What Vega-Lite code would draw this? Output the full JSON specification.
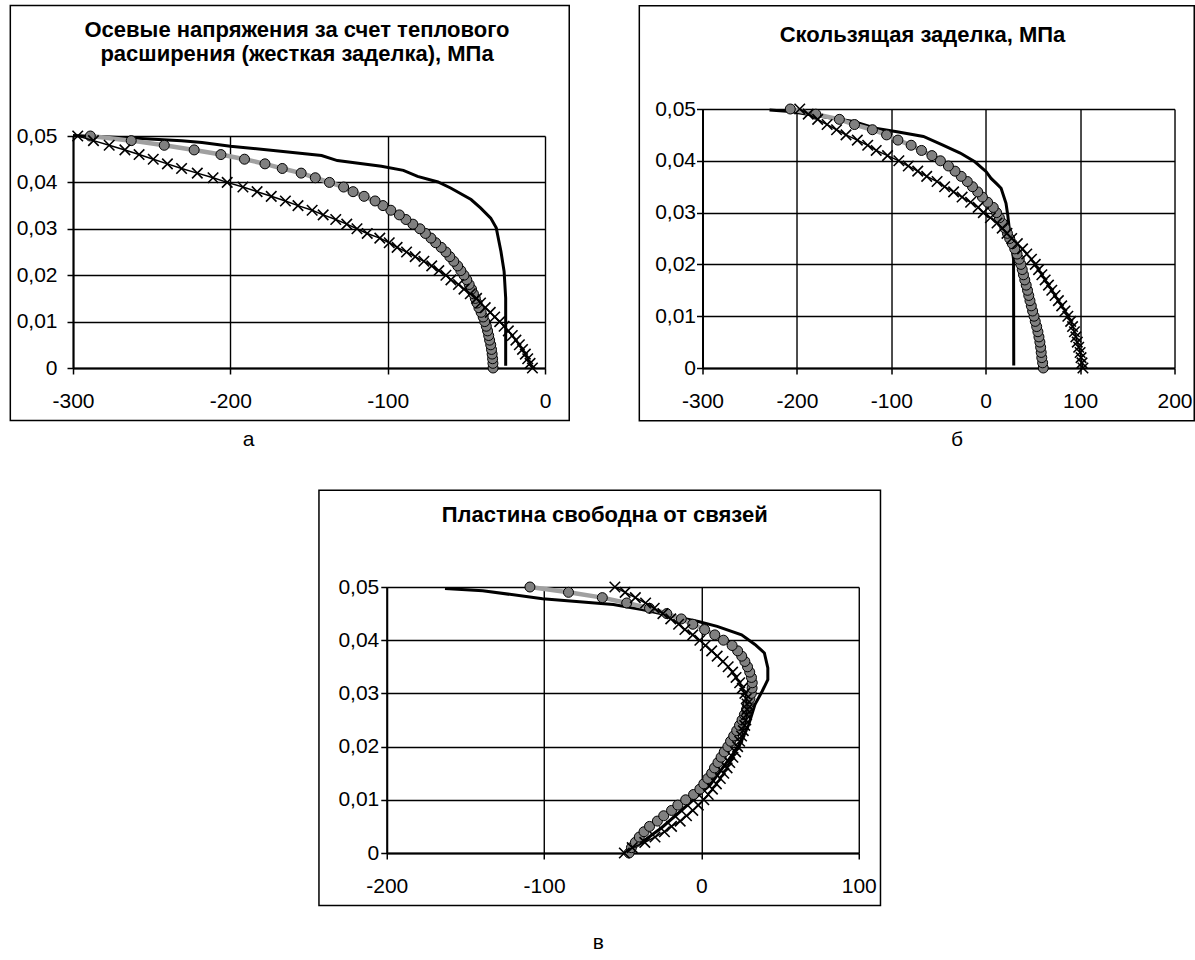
{
  "$schema": "https://vega.github.io/schema/vega-lite/v6.json",
  "padding": {"left": 9, "top": 4, "right": 0, "bottom": 0},
  "config": {
    "font": "Liberation Sans",
    "view": {"stroke": null},
    "locale": {"number": {"decimal": ",", "thousands": " ", "grouping": [3], "currency": ["", ""], "minus": "-"}},
    "axis": {"grid": true, "domainColor": "#000", "domainWidth": 2, "tickColor": "#000", "tickWidth": 1.5, "tickSize": 6, "gridColor": "#000", "gridWidth": 1.4, "gridOpacity": 1, "labelFont": "Liberation Sans", "labelFontSize": 21, "labelColor": "#000", "titleFont": "Liberation Sans", "titleFontSize": 21, "titleFontWeight": "normal", "titleColor": "#000", "labelFlush": false, "labelOverlap": false},
    "title": {"font": "Liberation Sans", "fontSize": 22, "fontWeight": "bold", "color": "#000"}
  },
  "datasets": {
    "a_solid": [
      {"x": -300, "y": 0.0501}, {"x": -260, "y": 0.0495}, {"x": -231, "y": 0.049}, {"x": -218, "y": 0.0486}, {"x": -200, "y": 0.0478},
      {"x": -168, "y": 0.0467}, {"x": -142, "y": 0.0458}, {"x": -132, "y": 0.0447}, {"x": -104, "y": 0.0435}, {"x": -90, "y": 0.0426},
      {"x": -81, "y": 0.0413}, {"x": -68, "y": 0.0401}, {"x": -60, "y": 0.0388}, {"x": -47, "y": 0.0363}, {"x": -41, "y": 0.0345},
      {"x": -34.5, "y": 0.0323}, {"x": -31, "y": 0.0302}, {"x": -30, "y": 0.0285}, {"x": -28, "y": 0.0251}, {"x": -26, "y": 0.0208},
      {"x": -25, "y": 0.0151}, {"x": -25, "y": 0.0101}, {"x": -25, "y": 0.0005}
    ],
    "a_circ": [
      {"y": 0.000, "x": -33}, {"y": 0.001, "x": -33.1}, {"y": 0.002, "x": -33.3}, {"y": 0.003, "x": -33.6}, {"y": 0.004, "x": -34},
      {"y": 0.005, "x": -34.5}, {"y": 0.006, "x": -35.2}, {"y": 0.007, "x": -35.8}, {"y": 0.008, "x": -36.5}, {"y": 0.009, "x": -37.3},
      {"y": 0.010, "x": -38.3}, {"y": 0.011, "x": -39.3}, {"y": 0.012, "x": -40.6}, {"y": 0.013, "x": -42}, {"y": 0.014, "x": -43.2},
      {"y": 0.015, "x": -44.3}, {"y": 0.016, "x": -45.5}, {"y": 0.017, "x": -46.7}, {"y": 0.018, "x": -48.2}, {"y": 0.019, "x": -49.7},
      {"y": 0.020, "x": -51.5}, {"y": 0.021, "x": -53.5}, {"y": 0.022, "x": -55.5}, {"y": 0.023, "x": -58}, {"y": 0.024, "x": -60.5},
      {"y": 0.025, "x": -63}, {"y": 0.026, "x": -66}, {"y": 0.027, "x": -69.5}, {"y": 0.028, "x": -72.5}, {"y": 0.029, "x": -76},
      {"y": 0.030, "x": -79.5}, {"y": 0.031, "x": -84}, {"y": 0.032, "x": -88.4}, {"y": 0.033, "x": -92.6}, {"y": 0.034, "x": -98},
      {"y": 0.035, "x": -103}, {"y": 0.036, "x": -108}, {"y": 0.037, "x": -115}, {"y": 0.038, "x": -122}, {"y": 0.039, "x": -128},
      {"y": 0.040, "x": -137}, {"y": 0.041, "x": -146}, {"y": 0.042, "x": -155}, {"y": 0.043, "x": -167}, {"y": 0.044, "x": -178},
      {"y": 0.045, "x": -191}, {"y": 0.046, "x": -206}, {"y": 0.047, "x": -223}, {"y": 0.048, "x": -242}, {"y": 0.049, "x": -263},
      {"y": 0.050, "x": -289}
    ],
    "a_cross": [
      {"y": 0.000, "x": -8}, {"y": 0.001, "x": -9.5}, {"y": 0.002, "x": -11}, {"y": 0.003, "x": -12.5}, {"y": 0.004, "x": -14.3},
      {"y": 0.005, "x": -16.3}, {"y": 0.006, "x": -18.5}, {"y": 0.007, "x": -20.8}, {"y": 0.008, "x": -23.3}, {"y": 0.009, "x": -26},
      {"y": 0.010, "x": -28.8}, {"y": 0.011, "x": -32}, {"y": 0.012, "x": -34.8}, {"y": 0.013, "x": -38}, {"y": 0.014, "x": -41},
      {"y": 0.015, "x": -43.5}, {"y": 0.016, "x": -47.5}, {"y": 0.017, "x": -51.5}, {"y": 0.018, "x": -55}, {"y": 0.019, "x": -59.8},
      {"y": 0.020, "x": -63}, {"y": 0.021, "x": -67.5}, {"y": 0.022, "x": -72}, {"y": 0.023, "x": -77}, {"y": 0.024, "x": -82.5},
      {"y": 0.025, "x": -88}, {"y": 0.026, "x": -94}, {"y": 0.027, "x": -99}, {"y": 0.028, "x": -105}, {"y": 0.029, "x": -113},
      {"y": 0.030, "x": -119.5}, {"y": 0.031, "x": -126}, {"y": 0.032, "x": -133}, {"y": 0.033, "x": -141}, {"y": 0.034, "x": -148},
      {"y": 0.035, "x": -157}, {"y": 0.036, "x": -165}, {"y": 0.037, "x": -174}, {"y": 0.038, "x": -183}, {"y": 0.039, "x": -192},
      {"y": 0.040, "x": -202}, {"y": 0.041, "x": -211}, {"y": 0.042, "x": -221}, {"y": 0.043, "x": -231}, {"y": 0.044, "x": -240},
      {"y": 0.045, "x": -249}, {"y": 0.046, "x": -258}, {"y": 0.047, "x": -267}, {"y": 0.048, "x": -277}, {"y": 0.049, "x": -287},
      {"y": 0.050, "x": -297}
    ],
    "b_solid": [
      {"x": -229, "y": 0.0498}, {"x": -207, "y": 0.0495}, {"x": -172, "y": 0.0485}, {"x": -140, "y": 0.0476}, {"x": -117, "y": 0.0463},
      {"x": -94, "y": 0.0456}, {"x": -66, "y": 0.0447}, {"x": -46.5, "y": 0.0431}, {"x": -27, "y": 0.0415}, {"x": -11.5, "y": 0.0398},
      {"x": 0.5, "y": 0.0379}, {"x": 5.7, "y": 0.0366}, {"x": 12, "y": 0.0355}, {"x": 16.3, "y": 0.0347}, {"x": 21.5, "y": 0.0318},
      {"x": 23.3, "y": 0.0296}, {"x": 25.5, "y": 0.026}, {"x": 28, "y": 0.023}, {"x": 29.5, "y": 0.021}, {"x": 29.7, "y": 0.0005}
    ],
    "b_circ": [
      {"y": 0.000, "x": 61}, {"y": 0.001, "x": 60.3}, {"y": 0.002, "x": 59.4}, {"y": 0.003, "x": 58.8}, {"y": 0.004, "x": 58.2},
      {"y": 0.005, "x": 57.4}, {"y": 0.006, "x": 56.4}, {"y": 0.007, "x": 55.3}, {"y": 0.008, "x": 54}, {"y": 0.009, "x": 52.5},
      {"y": 0.010, "x": 51.2}, {"y": 0.011, "x": 49.7}, {"y": 0.012, "x": 48.3}, {"y": 0.013, "x": 46.9}, {"y": 0.014, "x": 45.6},
      {"y": 0.015, "x": 44.3}, {"y": 0.016, "x": 42.9}, {"y": 0.017, "x": 41.4}, {"y": 0.018, "x": 40}, {"y": 0.019, "x": 38.7},
      {"y": 0.020, "x": 37.3}, {"y": 0.021, "x": 35.5}, {"y": 0.022, "x": 33.2}, {"y": 0.023, "x": 30.8}, {"y": 0.024, "x": 28.2},
      {"y": 0.025, "x": 25.4}, {"y": 0.026, "x": 23}, {"y": 0.027, "x": 20.3}, {"y": 0.028, "x": 17.5}, {"y": 0.029, "x": 14.5},
      {"y": 0.030, "x": 11.5}, {"y": 0.031, "x": 8}, {"y": 0.032, "x": 2}, {"y": 0.033, "x": -3.5}, {"y": 0.034, "x": -8.5},
      {"y": 0.035, "x": -14}, {"y": 0.036, "x": -19.5}, {"y": 0.037, "x": -26}, {"y": 0.038, "x": -32.5}, {"y": 0.039, "x": -39.5},
      {"y": 0.040, "x": -48}, {"y": 0.041, "x": -57}, {"y": 0.042, "x": -68}, {"y": 0.043, "x": -79}, {"y": 0.044, "x": -93},
      {"y": 0.045, "x": -105}, {"y": 0.046, "x": -120}, {"y": 0.047, "x": -139}, {"y": 0.048, "x": -155}, {"y": 0.049, "x": -180},
      {"y": 0.050, "x": -207}
    ],
    "b_cross": [
      {"y": 0.000, "x": 103}, {"y": 0.001, "x": 102}, {"y": 0.002, "x": 101}, {"y": 0.003, "x": 100}, {"y": 0.004, "x": 98.5},
      {"y": 0.005, "x": 97}, {"y": 0.006, "x": 95.5}, {"y": 0.007, "x": 94}, {"y": 0.008, "x": 92}, {"y": 0.009, "x": 90},
      {"y": 0.010, "x": 87}, {"y": 0.011, "x": 84}, {"y": 0.012, "x": 80.5}, {"y": 0.013, "x": 77}, {"y": 0.014, "x": 73.5},
      {"y": 0.015, "x": 70}, {"y": 0.016, "x": 66.5}, {"y": 0.017, "x": 63}, {"y": 0.018, "x": 59.5}, {"y": 0.019, "x": 56},
      {"y": 0.020, "x": 52.5}, {"y": 0.021, "x": 48.5}, {"y": 0.022, "x": 43.5}, {"y": 0.023, "x": 39}, {"y": 0.024, "x": 33.5},
      {"y": 0.025, "x": 27.5}, {"y": 0.026, "x": 22.5}, {"y": 0.027, "x": 17.5}, {"y": 0.028, "x": 12}, {"y": 0.029, "x": 5},
      {"y": 0.030, "x": -2.5}, {"y": 0.031, "x": -8}, {"y": 0.032, "x": -16}, {"y": 0.033, "x": -25}, {"y": 0.034, "x": -34},
      {"y": 0.035, "x": -43.5}, {"y": 0.036, "x": -51.5}, {"y": 0.037, "x": -62.5}, {"y": 0.038, "x": -72}, {"y": 0.039, "x": -82},
      {"y": 0.040, "x": -92}, {"y": 0.041, "x": -104}, {"y": 0.042, "x": -116}, {"y": 0.043, "x": -125}, {"y": 0.044, "x": -136},
      {"y": 0.045, "x": -148}, {"y": 0.046, "x": -158}, {"y": 0.047, "x": -168}, {"y": 0.048, "x": -178}, {"y": 0.049, "x": -188},
      {"y": 0.050, "x": -197}
    ],
    "c_solid": [
      {"x": -163, "y": 0.0497}, {"x": -139, "y": 0.0493}, {"x": -101, "y": 0.0478}, {"x": -56, "y": 0.0467}, {"x": -37, "y": 0.0457},
      {"x": -18, "y": 0.0445}, {"x": -2, "y": 0.0435}, {"x": 10, "y": 0.0426}, {"x": 25.5, "y": 0.041}, {"x": 34, "y": 0.0392},
      {"x": 40, "y": 0.0376}, {"x": 42.2, "y": 0.0348}, {"x": 42.2, "y": 0.0326}, {"x": 38.6, "y": 0.0304}, {"x": 34, "y": 0.0279},
      {"x": 30, "y": 0.0241}, {"x": 24.5, "y": 0.0204}, {"x": 15, "y": 0.0166}, {"x": 5.5, "y": 0.0128}, {"x": -4, "y": 0.0103},
      {"x": -13.5, "y": 0.0078}, {"x": -25.5, "y": 0.0047}, {"x": -37, "y": 0.0022}, {"x": -46.7, "y": 0.0003}
    ],
    "c_circ": [
      {"y": 0.000, "x": -46}, {"y": 0.001, "x": -44.5}, {"y": 0.002, "x": -42}, {"y": 0.003, "x": -39.5}, {"y": 0.004, "x": -36.5},
      {"y": 0.005, "x": -33}, {"y": 0.006, "x": -28}, {"y": 0.007, "x": -24}, {"y": 0.008, "x": -19}, {"y": 0.009, "x": -15},
      {"y": 0.010, "x": -10}, {"y": 0.011, "x": -5}, {"y": 0.012, "x": -1}, {"y": 0.013, "x": 1.5}, {"y": 0.014, "x": 4},
      {"y": 0.015, "x": 6.5}, {"y": 0.016, "x": 8.3}, {"y": 0.017, "x": 10.5}, {"y": 0.018, "x": 12.5}, {"y": 0.019, "x": 14.5},
      {"y": 0.020, "x": 16.8}, {"y": 0.021, "x": 18.5}, {"y": 0.022, "x": 20.5}, {"y": 0.023, "x": 22.4}, {"y": 0.024, "x": 24.2},
      {"y": 0.025, "x": 25.8}, {"y": 0.026, "x": 27.3}, {"y": 0.027, "x": 28.7}, {"y": 0.028, "x": 29.8}, {"y": 0.029, "x": 30.8},
      {"y": 0.030, "x": 31.7}, {"y": 0.031, "x": 32.2}, {"y": 0.032, "x": 32.3}, {"y": 0.033, "x": 31.8}, {"y": 0.034, "x": 30.7},
      {"y": 0.035, "x": 29.3}, {"y": 0.036, "x": 27.6}, {"y": 0.037, "x": 25.6}, {"y": 0.038, "x": 23}, {"y": 0.039, "x": 19.5},
      {"y": 0.040, "x": 14}, {"y": 0.041, "x": 8.5}, {"y": 0.042, "x": 2}, {"y": 0.043, "x": -5.5}, {"y": 0.044, "x": -12.8},
      {"y": 0.045, "x": -22}, {"y": 0.046, "x": -33}, {"y": 0.047, "x": -47.5}, {"y": 0.048, "x": -63}, {"y": 0.049, "x": -84.5},
      {"y": 0.050, "x": -109}
    ],
    "c_cross": [
      {"y": 0.000, "x": -49}, {"y": 0.001, "x": -44}, {"y": 0.002, "x": -36}, {"y": 0.003, "x": -29.5}, {"y": 0.004, "x": -23.5},
      {"y": 0.005, "x": -19}, {"y": 0.006, "x": -13.5}, {"y": 0.007, "x": -9.5}, {"y": 0.008, "x": -5.5}, {"y": 0.009, "x": -2},
      {"y": 0.010, "x": 1.5}, {"y": 0.011, "x": 4.3}, {"y": 0.012, "x": 7}, {"y": 0.013, "x": 9.5}, {"y": 0.014, "x": 12},
      {"y": 0.015, "x": 14.2}, {"y": 0.016, "x": 16.3}, {"y": 0.017, "x": 18}, {"y": 0.018, "x": 20}, {"y": 0.019, "x": 21.7},
      {"y": 0.020, "x": 23}, {"y": 0.021, "x": 24.3}, {"y": 0.022, "x": 25.5}, {"y": 0.023, "x": 26.6}, {"y": 0.024, "x": 27.5},
      {"y": 0.025, "x": 28.2}, {"y": 0.026, "x": 28.7}, {"y": 0.027, "x": 29}, {"y": 0.028, "x": 29}, {"y": 0.029, "x": 28.5},
      {"y": 0.030, "x": 27.6}, {"y": 0.031, "x": 26}, {"y": 0.032, "x": 24.3}, {"y": 0.033, "x": 22}, {"y": 0.034, "x": 19.8},
      {"y": 0.035, "x": 17}, {"y": 0.036, "x": 13.7}, {"y": 0.037, "x": 10}, {"y": 0.038, "x": 6.5}, {"y": 0.039, "x": 2.5},
      {"y": 0.040, "x": -1}, {"y": 0.041, "x": -5.5}, {"y": 0.042, "x": -10.5}, {"y": 0.043, "x": -14.5}, {"y": 0.044, "x": -19.5},
      {"y": 0.045, "x": -24.5}, {"y": 0.046, "x": -30}, {"y": 0.047, "x": -35.5}, {"y": 0.048, "x": -42}, {"y": 0.049, "x": -48.5},
      {"y": 0.050, "x": -55}
    ]
  },
  "spacing": 40,
  "center": true,
  "vconcat": [
    {
      "spacing": 68.5,
      "hconcat": [
        {"spacing": -30, "vconcat": [
        {"width": 10, "height": 0, "data": {"values": [{}]}, "mark": {"type": "point", "filled": true, "size": 0, "opacity": 0, "strokeWidth": 0}},
        {
          "width": 472, "height": 232,
          "title": {"text": ["Осевые напряжения за счет теплового", "расширения (жесткая заделка), МПа"], "frame": "group", "anchor": "middle", "dx": -12, "offset": -83, "baseline": "bottom", "lineHeight": 23.5},
          "layer": [
            {"data": {"values": [{}]}, "mark": {"type": "rect", "fill": "transparent", "stroke": "#000", "strokeWidth": 1.5, "clip": false},
             "encoding": {
               "x": {"datum": -339.85, "type": "quantitative", "scale": {"domain": [-300, 0], "nice": false, "zero": false},
                     "axis": {"values": [-300, -200, -100, 0], "format": "d", "grid": true, "labelPadding": 16, "title": "а", "titleX": 175, "titleY": 71, "titleBaseline": "middle", "titleAlign": "center"}},
               "x2": {"datum": 15.4},
               "y": {"datum": 0.078125, "type": "quantitative", "scale": {"domain": [0, 0.05], "nice": false, "zero": false},
                     "axis": {"values": [0, 0.01, 0.02, 0.03, 0.04, 0.05], "format": ".2~f", "grid": true, "labelPadding": 10, "title": null}},
               "y2": {"datum": -0.0113}}},
            {"data": {"name": "a_solid"}, "mark": {"type": "line", "color": "#000", "strokeWidth": 3},
             "encoding": {"x": {"field": "x", "type": "quantitative"}, "y": {"field": "y", "type": "quantitative"}, "order": {"field": "y", "type": "quantitative"}}},
            {"data": {"name": "a_circ"}, "mark": {"type": "line", "color": "#a0a0a0", "strokeWidth": 4.5},
             "encoding": {"x": {"field": "x", "type": "quantitative"}, "y": {"field": "y", "type": "quantitative"}, "order": {"field": "y", "type": "quantitative"}}},
            {"data": {"name": "a_circ"}, "mark": {"type": "point", "shape": "circle", "filled": true, "fill": "#808080", "stroke": "#000", "strokeWidth": 1, "size": 100, "opacity": 1},
             "encoding": {"x": {"field": "x", "type": "quantitative"}, "y": {"field": "y", "type": "quantitative"}}},
            {"data": {"name": "a_cross"}, "mark": {"type": "line", "color": "#000", "strokeWidth": 1.5},
             "encoding": {"x": {"field": "x", "type": "quantitative"}, "y": {"field": "y", "type": "quantitative"}, "order": {"field": "y", "type": "quantitative"}}},
            {"data": {"name": "a_cross"}, "mark": {"type": "point", "shape": "M-1,-1L1,1M-1,1L1,-1", "filled": false, "stroke": "#000", "strokeWidth": 1.6, "size": 110, "opacity": 1},
             "encoding": {"x": {"field": "x", "type": "quantitative"}, "y": {"field": "y", "type": "quantitative"}}}
          ]
        }]},
        {"spacing": -30, "vconcat": [
        {"width": 10, "height": 0, "data": {"values": [{}]}, "mark": {"type": "point", "filled": true, "size": 0, "opacity": 0, "strokeWidth": 0}},
        {
          "width": 472, "height": 259,
          "title": {"text": "Скользящая заделка, МПа", "frame": "group", "anchor": "middle", "dx": -16, "offset": -64, "baseline": "bottom"},
          "layer": [
            {"data": {"values": [{}]}, "mark": {"type": "rect", "fill": "transparent", "stroke": "#000", "strokeWidth": 1.5, "clip": false},
             "encoding": {
               "x": {"datum": -366.95, "type": "quantitative", "scale": {"domain": [-300, 200], "nice": false, "zero": false},
                     "axis": {"values": [-300, -200, -100, 0, 100, 200], "format": "d", "grid": true, "labelPadding": 16, "title": "б", "titleX": 254, "titleY": 71, "titleBaseline": "middle", "titleAlign": "center"}},
               "x2": {"datum": 220.9},
               "y": {"datum": 0.06994, "type": "quantitative", "scale": {"domain": [0, 0.05], "nice": false, "zero": false},
                     "axis": {"values": [0, 0.01, 0.02, 0.03, 0.04, 0.05], "format": ".2~f", "grid": true, "labelPadding": 1, "title": null}},
               "y2": {"datum": -0.01017}}},
            {"data": {"name": "b_solid"}, "mark": {"type": "line", "color": "#000", "strokeWidth": 3},
             "encoding": {"x": {"field": "x", "type": "quantitative"}, "y": {"field": "y", "type": "quantitative"}, "order": {"field": "y", "type": "quantitative"}}},
            {"data": {"name": "b_circ"}, "mark": {"type": "line", "color": "#a0a0a0", "strokeWidth": 4.5},
             "encoding": {"x": {"field": "x", "type": "quantitative"}, "y": {"field": "y", "type": "quantitative"}, "order": {"field": "y", "type": "quantitative"}}},
            {"data": {"name": "b_circ"}, "mark": {"type": "point", "shape": "circle", "filled": true, "fill": "#808080", "stroke": "#000", "strokeWidth": 1, "size": 100, "opacity": 1},
             "encoding": {"x": {"field": "x", "type": "quantitative"}, "y": {"field": "y", "type": "quantitative"}}},
            {"data": {"name": "b_cross"}, "mark": {"type": "line", "color": "#000", "strokeWidth": 1.5},
             "encoding": {"x": {"field": "x", "type": "quantitative"}, "y": {"field": "y", "type": "quantitative"}, "order": {"field": "y", "type": "quantitative"}}},
            {"data": {"name": "b_cross"}, "mark": {"type": "point", "shape": "M-1,-1L1,1M-1,1L1,-1", "filled": false, "stroke": "#000", "strokeWidth": 1.6, "size": 110, "opacity": 1},
             "encoding": {"x": {"field": "x", "type": "quantitative"}, "y": {"field": "y", "type": "quantitative"}}}
          ]
        }]}
      ]
    },
    {
      "width": 472, "height": 266,
      "title": {"text": "Пластина свободна от связей", "frame": "group", "anchor": "middle", "dx": -18, "offset": -59, "baseline": "bottom"},
      "layer": [
        {"data": {"values": [{}]}, "mark": {"type": "rect", "fill": "transparent", "stroke": "#000", "strokeWidth": 1.5, "clip": false},
         "encoding": {
           "x": {"datum": -243.1, "type": "quantitative", "scale": {"domain": [-200, 100], "nice": false, "zero": false},
                 "axis": {"values": [-200, -100, 0, 100], "format": "d", "grid": true, "labelPadding": 16, "title": "в", "titleX": 211, "titleY": 89, "titleBaseline": "middle", "titleAlign": "center"}},
           "x2": {"datum": 113.8},
           "y": {"datum": 0.068177, "type": "quantitative", "scale": {"domain": [0, 0.05], "nice": false, "zero": false},
                 "axis": {"values": [0, 0.01, 0.02, 0.03, 0.04, 0.05], "format": ".2~f", "grid": true, "labelPadding": 2, "title": null}},
           "y2": {"datum": -0.009887}}},
        {"data": {"name": "c_solid"}, "mark": {"type": "line", "color": "#000", "strokeWidth": 3},
         "encoding": {"x": {"field": "x", "type": "quantitative"}, "y": {"field": "y", "type": "quantitative"}, "order": {"field": "y", "type": "quantitative"}}},
        {"data": {"name": "c_circ"}, "mark": {"type": "line", "color": "#a0a0a0", "strokeWidth": 4.5},
         "encoding": {"x": {"field": "x", "type": "quantitative"}, "y": {"field": "y", "type": "quantitative"}, "order": {"field": "y", "type": "quantitative"}}},
        {"data": {"name": "c_circ"}, "mark": {"type": "point", "shape": "circle", "filled": true, "fill": "#808080", "stroke": "#000", "strokeWidth": 1, "size": 100, "opacity": 1},
         "encoding": {"x": {"field": "x", "type": "quantitative"}, "y": {"field": "y", "type": "quantitative"}}},
        {"data": {"name": "c_cross"}, "mark": {"type": "line", "color": "#000", "strokeWidth": 1.5},
         "encoding": {"x": {"field": "x", "type": "quantitative"}, "y": {"field": "y", "type": "quantitative"}, "order": {"field": "y", "type": "quantitative"}}},
        {"data": {"name": "c_cross"}, "mark": {"type": "point", "shape": "M-1,-1L1,1M-1,1L1,-1", "filled": false, "stroke": "#000", "strokeWidth": 1.6, "size": 110, "opacity": 1},
         "encoding": {"x": {"field": "x", "type": "quantitative"}, "y": {"field": "y", "type": "quantitative"}}}
      ]
    }
  ]
}
